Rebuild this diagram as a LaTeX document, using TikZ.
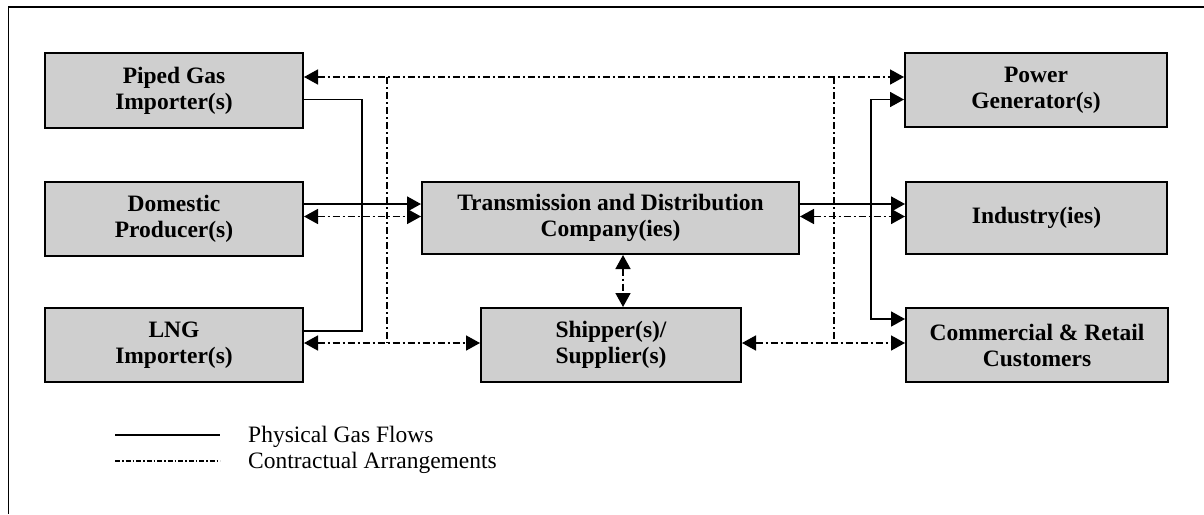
\documentclass[tikz,border=0pt]{standalone}
\usepackage{fontspec}
\setmainfont{Liberation Serif}
\usetikzlibrary{arrows.meta}

\tikzset{
  party/.style={draw=black, line width=2pt, fill=black!19, inner sep=0pt,
    align=center, font=\bfseries\fontsize{23.5}{26}\selectfont},
  flow/.style={draw=black, line width=1.8pt},
  contract/.style={draw=black, line width=1.6pt,
    dash pattern=on 7pt off 3pt on 2pt off 3pt},
  tip/.tip={Triangle[length=14pt,width=15pt]},
  legendtext/.style={anchor=base west, inner sep=0pt,
    font=\fontsize{23.5}{26}\selectfont}
}

\begin{document}
\begin{tikzpicture}[x=1pt,y=-1pt]
\useasboundingbox (0,0) rectangle (1204,514);

% page frame
\draw[line width=2pt] (8,7) -- (1204,7);
\draw[line width=1pt] (8,7) -- (8,514);

% market participants
\node[party, minimum width=258pt, minimum height=75pt] (piped)    at (174,90.5) {Piped Gas\\Importer(s)};
\node[party, minimum width=258pt, minimum height=74pt] (domestic) at (174,219)  {Domestic\\Producer(s)};
\node[party, minimum width=258pt, minimum height=74pt] (lng)      at (174,345)  {LNG\\Importer(s)};
\node[party, minimum width=377pt, minimum height=72pt] (tdc)      at (610.5,218) {Transmission and Distribution\\Company(ies)};
\node[party, minimum width=260pt, minimum height=74pt] (shipper)  at (611,345)  {Shipper(s)/\\Supplier(s)};
\node[party, minimum width=262pt, minimum height=74pt] (power)    at (1036,90)  {Power\\Generator(s)};
\node[party, minimum width=261pt, minimum height=72pt] (industry) at (1036.5,218) {Industry(ies)};
\node[party, minimum width=262pt, minimum height=74pt] (commercial) at (1037,345) {Commercial \& Retail\\Customers};

% routing rails
\coordinate (yC)  at (0,77);
\coordinate (yP)  at (0,99.5);
\coordinate (ySM) at (0,204);
\coordinate (yCM) at (0,216.5);
\coordinate (yCS) at (0,319);
\coordinate (yLS) at (0,331);
\coordinate (yCB) at (0,343);
\coordinate (xLS) at (362,0);
\coordinate (xLC) at (387,0);
\coordinate (xM)  at (623,0);
\coordinate (xRC) at (834,0);
\coordinate (xRS) at (871,0);

% physical gas flows
\draw[flow] (piped.east |- yP) -| (xLS |- yLS) -- (lng.east |- yLS);
\draw[flow, -{tip}] (domestic.east |- ySM) -- (tdc.west |- ySM);
\draw[flow, -{tip}] (tdc.east |- ySM) -- (industry.west |- ySM);
\draw[flow, {tip}-{tip}] (power.west |- yP) -| (xRS |- yCS) -- (commercial.west |- yCS);

% contractual arrangements
\draw[contract, {tip}-{tip}] (piped.east |- yC) -- (power.west |- yC);
\draw[contract] (xLC |- yC) -- (xLC |- yCB);
\draw[contract] (xRC |- yC) -- (xRC |- yCB);
\draw[contract, {tip}-{tip}] (domestic.east |- yCM) -- (tdc.west |- yCM);
\draw[contract, {tip}-{tip}] (tdc.east |- yCM) -- (industry.west |- yCM);
\draw[contract, {tip}-{tip}] (lng.east |- yCB) -- (shipper.west |- yCB);
\draw[contract, {tip}-{tip}] (shipper.east |- yCB) -- (commercial.west |- yCB);
\draw[contract, {tip}-{tip}] (tdc.south -| xM) -- (shipper.north -| xM);

% legend
\coordinate (l1a) at (115,435);
\coordinate (l1b) at (220,435);
\coordinate (l2a) at (115,461);
\coordinate (l2b) at (220,461);
\draw[line width=1.3pt] (l1a) -- (l1b);
\draw[line width=1.3pt, dash pattern=on 5pt off 2pt on 1.5pt off 2pt] (l2a) -- (l2b);
\node[legendtext] (lg1) at (248,442) {Physical Gas Flows};
\node[legendtext] (lg2) at (248,468) {Contractual Arrangements};
\end{tikzpicture}
\end{document}
